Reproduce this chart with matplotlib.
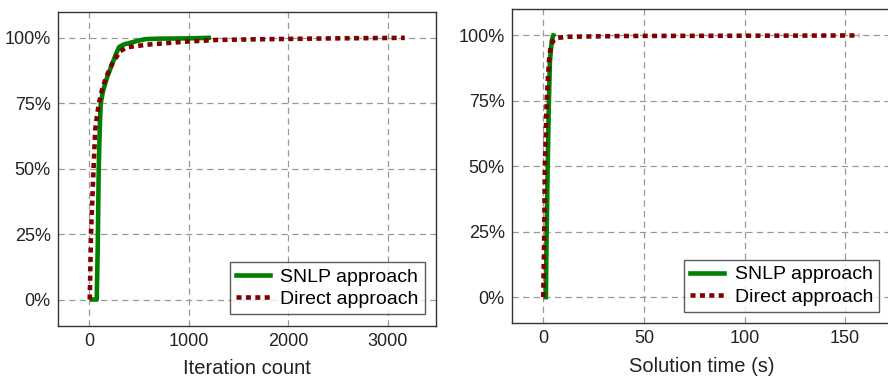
import matplotlib
matplotlib.use("Agg")
import matplotlib.pyplot as plt
from matplotlib.ticker import FuncFormatter

# ---- data ----
iter_snlp_x = [30, 75, 85, 95, 105, 115, 140, 180, 230, 270, 300, 350, 450, 560, 700, 1000, 1200]
iter_snlp_y = [0.0, 0.0, 0.2, 0.5, 0.65, 0.75, 0.80, 0.85, 0.90, 0.94, 0.965, 0.975, 0.985, 0.995, 0.997, 0.998, 1.0]
iter_direct_x = [5, 17, 43, 60, 77, 97, 127, 170, 228, 311, 392, 612, 946, 1280, 1784, 2450, 3170]
iter_direct_y = [0.0, 0.25, 0.50, 0.65, 0.70, 0.75, 0.80, 0.85, 0.90, 0.95, 0.965, 0.975, 0.985, 0.992, 0.995, 0.998, 1.0]

time_snlp_x = [1.3, 1.6, 2.2, 2.8, 3.3, 4.2, 5.0]
time_snlp_y = [0.0, 0.2, 0.5, 0.75, 0.90, 0.98, 1.0]
time_direct_x = [0.0, 0.5, 0.8, 1.7, 2.8, 3.7, 5.0, 6.6, 11.6, 40, 157]
time_direct_y = [0.0, 0.25, 0.50, 0.75, 0.90, 0.96, 0.98, 0.99, 0.995, 0.998, 1.0]

yticks = [0, 0.25, 0.5, 0.75, 1.0]
iter_ticks = [0, 1000, 2000, 3000]
time_ticks = [0, 50, 100, 150]

plt.rcParams['font.family'] = ['Liberation Sans', 'DejaVu Sans']

fig = plt.figure(figsize=(8.88, 3.78), dpi=100)
ax1 = fig.add_axes([0.065, 0.1384, 0.4264, 0.8307])
ax2 = fig.add_axes([0.5762, 0.1447, 0.427, 0.8307])

green = '#008000'
red = '#800000'

def style(ax, xlim, xticks, xlabel):
    ax.set_xlim(*xlim)
    ax.set_ylim(-0.1, 1.1)
    ax.set_xticks(xticks)
    ax.set_yticks(yticks)
    ax.yaxis.set_major_formatter(FuncFormatter(lambda v, p: f"{int(round(v*100))}%"))
    ax.grid(True, color='#999999', linestyle=(0, (5, 3.5)), linewidth=0.9)
    ax.set_axisbelow(True)
    ax.tick_params(length=0, labelsize=13, pad=5, colors='#222222')
    for s in ax.spines.values():
        s.set_color('#333333')
        s.set_linewidth(1.0)
    ax.set_xlabel(xlabel, fontsize=14.5, labelpad=7, color='#222222')
    leg = ax.legend(loc='lower right', fontsize=14, frameon=True, fancybox=False,
                    handlelength=1.75, handletextpad=0.55, borderpad=0.3,
                    labelspacing=0.25, borderaxespad=0.6)
    leg.get_frame().set_edgecolor('#333333')
    leg.get_frame().set_linewidth(1.0)

ax1.plot(iter_snlp_x, iter_snlp_y, color=green, lw=3.3, label='SNLP approach')
ax1.plot(iter_direct_x, iter_direct_y, color=red, lw=3.3, linestyle=(0, (1.1, 0.95)), label='Direct approach')
style(ax1, (-317, 3487), iter_ticks, 'Iteration count')

ax2.plot(time_snlp_x, time_snlp_y, color=green, lw=3.3, label='SNLP approach')
ax2.plot(time_direct_x, time_direct_y, color=red, lw=3.3, linestyle=(0, (1.1, 0.95)), label='Direct approach')
style(ax2, (-15.7, 172.7), time_ticks, 'Solution time (s)')

fig.savefig('out.png', dpi=100)
